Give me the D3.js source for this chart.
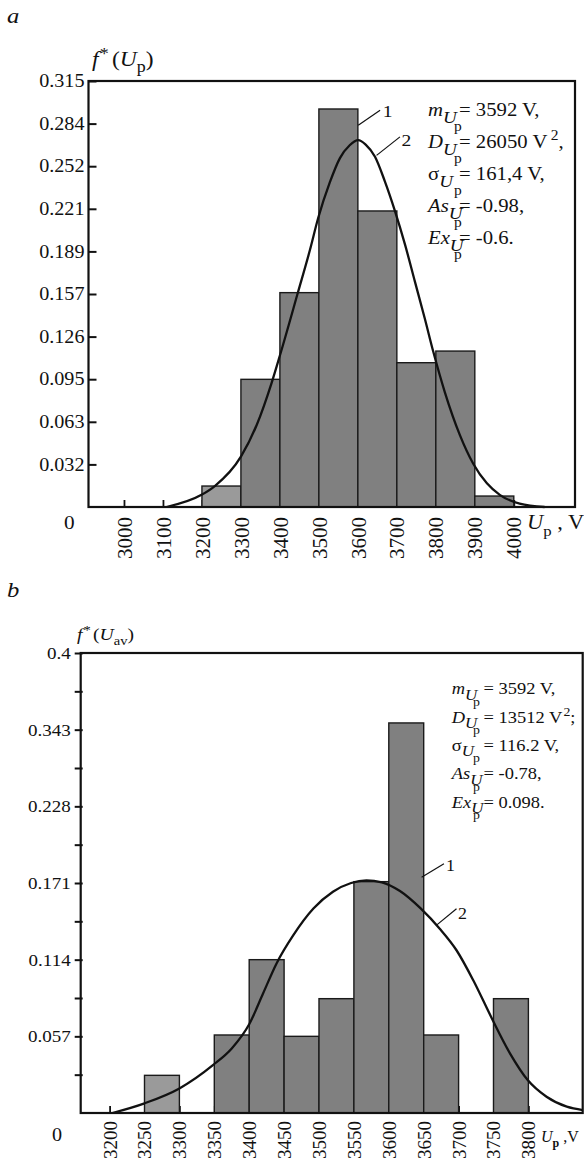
<!DOCTYPE html>
<html>
<head>
<meta charset="utf-8">
<script src="https://cdn.jsdelivr.net/npm/d3@7"></script>
<style>
  body { margin: 0; background: #fff; }
  svg { display: block; }
  text { font-family: "Liberation Serif", "Times New Roman", serif; fill: #111; }
</style>
</head>
<body>
<svg id="chart" width="584" height="1160"></svg>
<script>
// ---- panel a: histogram of U_p, bin width 100 V ----
const binEdgesA = [3200, 3300, 3400, 3500, 3600, 3700, 3800, 3900, 4000];
const freqA = [0.0155, 0.0944, 0.1585, 0.2943, 0.2189, 0.1067, 0.1153, 0.0081];
const xTicksA = [3000, 3100, 3200, 3300, 3400, 3500, 3600, 3700, 3800, 3900, 4000];
const yTicksA = [0.0315, 0.063, 0.0945, 0.126, 0.1575, 0.189, 0.2205, 0.252, 0.2835, 0.315];
const yLabelsA = ["0.032", "0.063", "0.095", "0.126", "0.157", "0.189", "0.221", "0.252", "0.284", "0.315"];
// curve 2 (theoretical density)
const curveUA = [3109, 3199, 3233, 3300, 3341, 3379, 3400, 3446, 3477, 3498, 3528, 3554, 3579, 3601, 3620,
                 3644, 3669, 3695, 3721, 3746, 3772, 3793, 3823, 3862, 3896, 3931, 3964, 4015, 4079];
const curveFA = [0, 0.009, 0.0155, 0.0372, 0.061, 0.092, 0.112, 0.1584, 0.190, 0.2135, 0.240, 0.258, 0.2675, 0.2713, 0.268,
                 0.259, 0.241, 0.219, 0.194, 0.167, 0.139, 0.1153, 0.085, 0.053, 0.032, 0.0175, 0.009, 0.0025, 0];
const statsA = [
  { sym: "m", it: true, val: "= 3592 V," },
  { sym: "D", it: true, val: "= 26050 V", sup: "2", after: "," },
  { sym: "σ", it: false, val: "= 161,4 V," },
  { sym: "As", it: true, val: "= -0.98," },
  { sym: "Ex", it: true, val: "= -0.6." }
];

// ---- panel b: histogram of U_av, bin width 50 V ----
const binEdgesB = [3250, 3300, 3350, 3400, 3450, 3500, 3550, 3600, 3650, 3700, 3750, 3800];
const freqB = [0.028, 0, 0.058, 0.114, 0.057, 0.085, 0.172, 0.290, 0.058, 0, 0.085];
const xTicksB = [3200, 3250, 3300, 3350, 3400, 3450, 3500, 3550, 3600, 3650, 3700, 3750, 3800];
const yTicksB = [0.0285, 0.057, 0.0855, 0.114, 0.1425, 0.171, 0.1995, 0.228, 0.2565, 0.285, 0.3135, 0.342];
const yLabelsB = ["", "0.057", "", "0.114", "", "0.171", "", "0.228", "", "0.343", "", "0.4"];
const curveUB = [3204, 3250, 3300, 3348, 3375, 3400, 3420, 3439, 3463, 3492, 3520, 3546, 3568, 3590, 3616, 3646,
                 3673, 3697, 3721, 3747, 3774, 3799, 3826, 3855, 3878];
const curveFB = [0, 0.0072, 0.0183, 0.0356, 0.048, 0.066, 0.089, 0.111, 0.132, 0.152, 0.1645, 0.171, 0.1729, 0.1715, 0.165, 0.1519,
                 0.137, 0.121, 0.0987, 0.071, 0.044, 0.0245, 0.0121, 0.0047, 0.0022];
const statsB = [
  { sym: "m", it: true, val: "= 3592 V," },
  { sym: "D", it: true, val: "= 13512 V", sup: "2", after: ";" },
  { sym: "σ", it: false, val: "= 116.2 V," },
  { sym: "As", it: true, val: "= -0.78," },
  { sym: "Ex", it: true, val: "= 0.098." }
];

const SX = 1.12; // the source typeface is a bit wider than Times
const svg = d3.select("#chart");
const ink = "#111";

function txt(g, x, y, size, italic, sx) {
  return g.append("text")
    .attr("transform", `translate(${x},${y}) scale(${sx || SX},1)`)
    .style("font-size", size + "px")
    .style("font-style", italic ? "italic" : "normal");
}

function drawStats(g, rows, o) {
  rows.forEach((r, i) => {
    const by = o.y + i * o.step;
    const t = txt(g, o.x, by, o.size);
    t.append("tspan").style("font-style", r.it ? "italic" : "normal").text(r.sym);
    t.append("tspan").style("font-style", "italic").style("font-size", (o.size * 0.92) + "px")
      .attr("dy", o.subDy).text("U");
    txt(g, o.xP, by + o.pDy, o.size * 0.75).text("p");
    const e = txt(g, o.xEq, by, o.size).text(r.val);
    if (r.sup) {
      e.append("tspan").attr("dx", o.supDx).attr("dy", -o.size * 0.42)
        .style("font-size", (o.size * 0.75) + "px").text(r.sup);
      e.append("tspan").attr("dy", o.size * 0.42).text(r.after);
    }
  });
}

function histPanel(c) {
  const g = svg.append("g");
  const x = d3.scaleLinear().domain(c.xDomain).range([c.left, c.right]);
  const y = d3.scaleLinear().domain(c.yDomain).range([c.bottom, c.top]);

  // x axis: inward ticks, vertical labels below
  const ax = g.append("g")
    .attr("transform", `translate(0,${c.bottom})`)
    .call(d3.axisBottom(x).tickValues(c.xTicks).tickFormat(d3.format("d"))
      .tickSizeInner(-7).tickSizeOuter(0));
  ax.select(".domain").remove();
  ax.selectAll("line").attr("stroke", ink).attr("stroke-width", 1.8);
  ax.selectAll("text")
    .attr("transform", "rotate(-90)")
    .attr("x", -c.xLabelGap).attr("y", 0).attr("dy", "0.34em")
    .style("text-anchor", "end")
    .style("font-size", c.xLabelSize + "px")
    .attr("fill", ink);

  // bars
  const bars = c.freq.map((f, i) => ({ x0: c.edges[i], x1: c.edges[i + 1], f: f, i: i }))
    .filter(d => d.f > 0);
  g.append("g").selectAll("rect")
    .data(bars)
    .join("rect")
      .attr("x", d => x(d.x0))
      .attr("y", d => y(d.f))
      .attr("width", d => x(d.x1) - x(d.x0))
      .attr("height", d => y(0) - y(d.f))
      .attr("fill", d => d.i === 0 ? "#9a9a9a" : "#808080")
      .attr("stroke", "#1a1a1a")
      .attr("stroke-width", 1.4);

  // curve 2
  const pts = c.curveU.map((u, i) => [u, c.curveF[i]]);
  g.append("path")
    .datum(pts)
    .attr("fill", "none")
    .attr("stroke", ink)
    .attr("stroke-width", 2.3)
    .attr("d", d3.line().x(d => x(d[0])).y(d => y(d[1])).curve(d3.curveMonotoneX));

  // frame
  g.append("rect")
    .attr("x", c.left).attr("y", c.top)
    .attr("width", c.right - c.left).attr("height", c.bottom - c.top)
    .attr("fill", "none").attr("stroke", ink).attr("stroke-width", 2.2);

  // y axis
  const ay = g.append("g")
    .attr("transform", `translate(${c.left},0)`)
    .call(d3.axisLeft(y).tickValues(c.yTicks).tickFormat((d, i) => c.yLabels[i])
      .tickSizeInner(c.yTickIn ? -8 : 6).tickSizeOuter(0).tickPadding(4));
  ay.select(".domain").remove();
  ay.selectAll("line").attr("stroke", ink).attr("stroke-width", 2);
  if (!c.yTickIn) ay.selectAll("line").attr("x1", 2);
  ay.selectAll("text")
    .attr("x", null)
    .attr("transform", `translate(${c.yTickIn ? -4 : -10},0) scale(${SX},1)`)
    .style("font-size", c.yLabelSize + "px")
    .attr("fill", ink);

  // leader lines for 1 (histogram) and 2 (curve)
  c.leaders.forEach(l => {
    g.append("line")
      .attr("x1", x(l.from[0])).attr("y1", y(l.from[1]))
      .attr("x2", x(l.to[0])).attr("y2", y(l.to[1]))
      .attr("stroke", ink).attr("stroke-width", 1.2);
    txt(g, x(l.at[0]), y(l.at[1]), c.numSize).text(l.label);
  });

  return { g, x, y };
}

// ---------- panel a ----------
const A = histPanel({
  left: 88.5, right: 575, top: 81, bottom: 507,
  xDomain: [2909, 4157], yDomain: [0, 0.315],
  xTicks: xTicksA, yTicks: yTicksA, yLabels: yLabelsA, yTickIn: true,
  edges: binEdgesA, freq: freqA, curveU: curveUA, curveF: curveFA,
  xLabelGap: 10, xLabelSize: 21, yLabelSize: 18, numSize: 17.5,
  leaders: [
    { from: [3601, 0.2823], to: [3657, 0.2934], at: [3664, 0.2885], label: "1" },
    { from: [3648, 0.2600], to: [3708, 0.2737], at: [3712, 0.2668], label: "2" }
  ]
});

txt(A.g, 7, 23, 22, true).text("a");
const tA = txt(A.g, 92, 65.7, 21, true);
tA.append("tspan").text("f");
tA.append("tspan").attr("dx", 1).attr("dy", -7).style("font-size", "16px").style("font-style", "normal").text("*");
tA.append("tspan").attr("dx", 3).attr("dy", 7).style("font-style", "normal").text("(");
tA.append("tspan").text("U");
tA.append("tspan").attr("dy", 6).style("font-size", "16px").style("font-style", "normal").text("p");
tA.append("tspan").attr("dy", -6).style("font-style", "normal").text(")");

const xtA = txt(A.g, 527, 528.5, 20, true);
xtA.append("tspan").text("U");
xtA.append("tspan").attr("dy", 7).style("font-size", "15px").style("font-style", "normal").text("p");
xtA.append("tspan").attr("dy", -7).style("font-style", "normal").text(" , V");
txt(A.g, 64, 528.5, 19).text("0");

drawStats(A.g, statsA, { x: 428, y: 116, step: 32, size: 18.5, subDy: 7, xP: 454, pDy: 14.5, xEq: 459, supDx: 3 });

// ---------- panel b ----------
const B = histPanel({
  left: 80.7, right: 582.7, top: 653, bottom: 1113,
  xDomain: [3158.6, 3877.8], yDomain: [0, 0.342],
  xTicks: xTicksB, yTicks: yTicksB, yLabels: yLabelsB, yTickIn: false,
  edges: binEdgesB, freq: freqB, curveU: curveUB, curveF: curveFB,
  xLabelGap: 8, xLabelSize: 19, yLabelSize: 17, numSize: 16,
  leaders: [
    { from: [3647, 0.1753], to: [3679, 0.1853], at: [3682, 0.1800], label: "1" },
    { from: [3668, 0.1395], to: [3697, 0.1519], at: [3699, 0.1440], label: "2" }
  ]
});

txt(B.g, 7, 597, 22, true).text("b");
const tB = txt(B.g, 77, 640, 17.5, true);
tB.append("tspan").text("f");
tB.append("tspan").attr("dx", 1).attr("dy", -6).style("font-size", "13px").style("font-style", "normal").text("*");
tB.append("tspan").attr("dx", 2).attr("dy", 6).style("font-style", "normal").text("(");
tB.append("tspan").text("U");
tB.append("tspan").attr("dy", 5).style("font-size", "13px").style("font-style", "normal").text("av");
tB.append("tspan").attr("dy", -5).style("font-style", "normal").text(")");

const xtB = txt(B.g, 541, 1142, 16, true, 1);
xtB.append("tspan").text("U");
xtB.append("tspan").attr("dy", 5).style("font-size", "12px").style("font-style", "normal").style("font-weight", "bold").text("p");
xtB.append("tspan").attr("dy", -5).style("font-style", "normal").text(" ,V");
txt(B.g, 52, 1141, 18).text("0");

drawStats(B.g, statsB, { x: 451.7, y: 694.3, step: 28.3, size: 16.5, subDy: 5.5, xP: 473, pDy: 11.5, xEq: 483.5, supDx: 1 });
</script>
</body>
</html>
